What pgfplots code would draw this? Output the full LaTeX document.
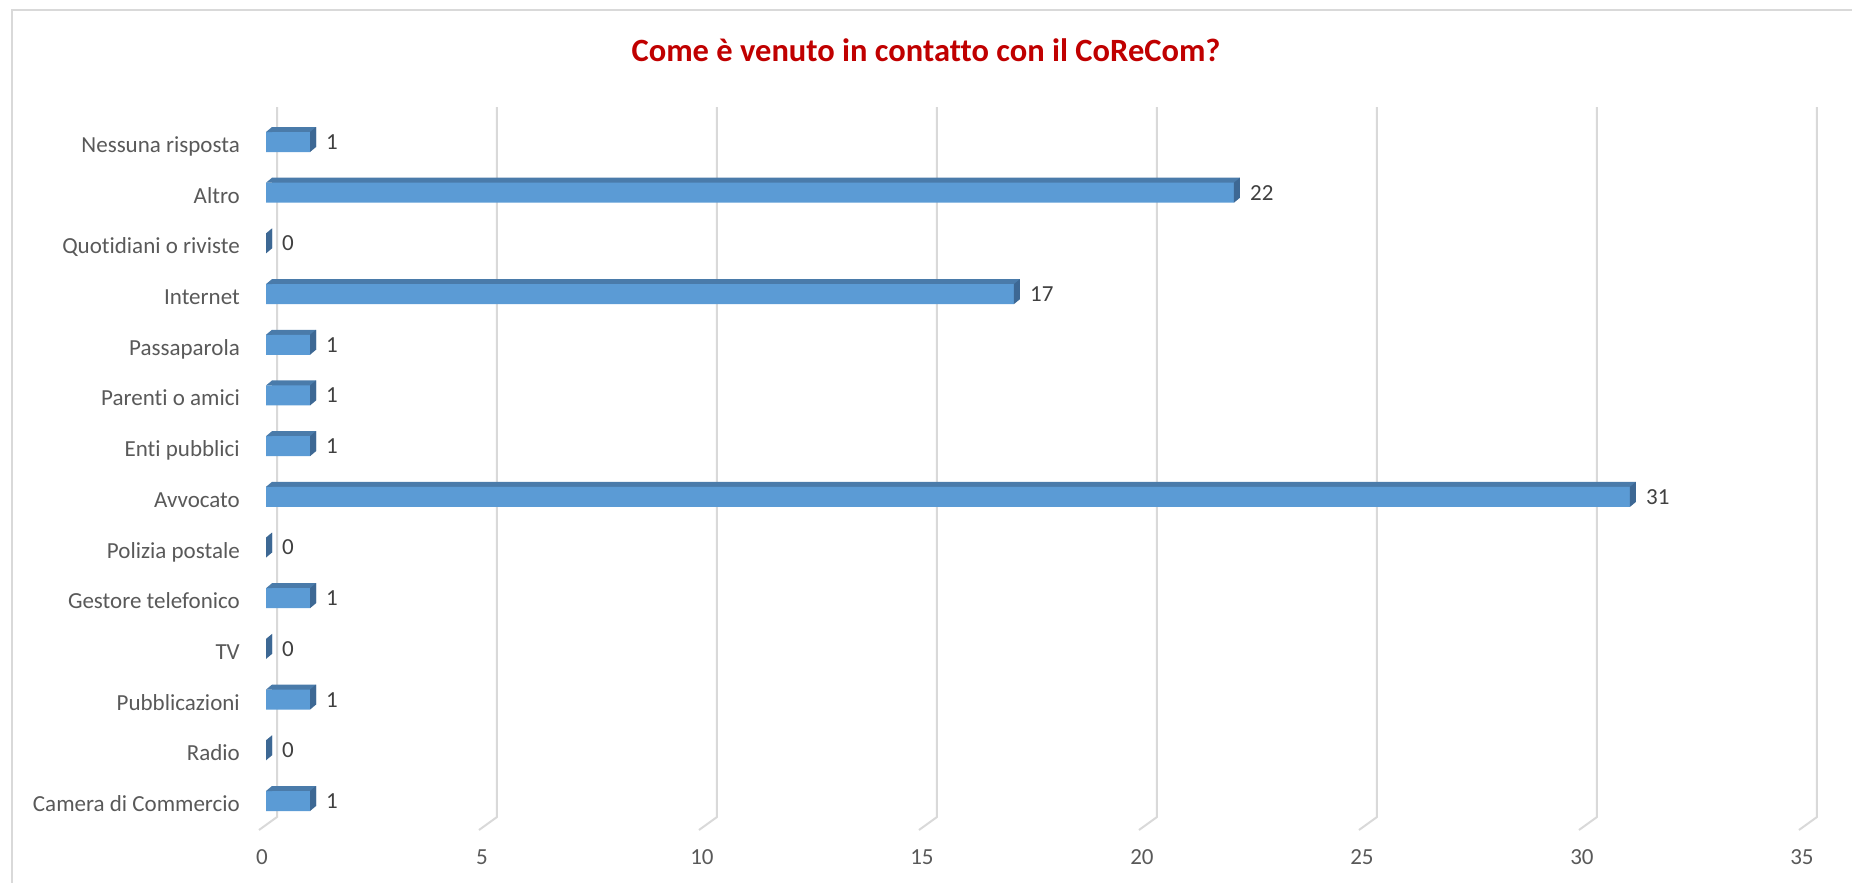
\documentclass[border=0pt]{standalone}
\usepackage{fontspec}
\setmainfont{Carlito}[Ligatures=NoCommon, RawFeature={-liga;-clig;-dlig}]
\usepackage{pgfplots}
\pgfplotsset{compat=1.18}
\usepackage{pgfplotstable}
\definecolor{frontc}{HTML}{5B9BD5}
\definecolor{topc}{HTML}{4A7BAA}
\definecolor{sidec}{HTML}{3D6894}
\definecolor{gridc}{HTML}{D9D9D9}
\definecolor{labc}{HTML}{595959}
\definecolor{datc}{HTML}{404040}
\definecolor{titc}{HTML}{C00000}
\pgfdeclareplotmark{sideface}{%
  \pgfpathmoveto{\pgfqpoint{0pt}{-10pt}}%
  \pgfpathlineto{\pgfqpoint{0pt}{10pt}}%
  \pgfpathlineto{\pgfqpoint{6pt}{15pt}}%
  \pgfpathlineto{\pgfqpoint{6pt}{-5pt}}%
  \pgfpathclose\pgfusepathqfill}
\pgfdeclareplotmark{topleft}{%
  \pgfpathmoveto{\pgfqpoint{0pt}{10pt}}%
  \pgfpathlineto{\pgfqpoint{6pt}{15pt}}%
  \pgfpathlineto{\pgfqpoint{6pt}{10pt}}%
  \pgfpathclose\pgfusepathqfill}
\pgfplotstableread{
y val
0 1
1 0
2 1
3 0
4 1
5 0
6 31
7 1
8 1
9 1
10 17
11 0
12 22
13 1
}\datatable
\begin{document}
\begin{tikzpicture}
\useasboundingbox (0,0) rectangle (1852pt,883pt);
\draw[gridc, line width=1.5pt] (12pt,-5pt) -- (12pt,873pt) -- (1860pt,873pt);
\node[anchor=base, text=titc, font=\fontsize{32.5}{38}\selectfont\bfseries, inner sep=0pt] at (926pt,821pt) {Come è venuto in contatto con il CoReCom?};
\begin{axis}[
  scale only axis,
  width=1540pt, height=709.66pt,
  at={(266pt,56.65pt)}, anchor=south west,
  xmin=0, xmax=35, ymin=-0.5, ymax=13.5,
  enlargelimits=false,
  clip=false,
  axis line style={draw=none},
  tick style={draw=none},
  xtick={0,5,...,35},
  ytick={0,...,13},
  yticklabels={Camera di Commercio, Radio, Pubblicazioni, TV, Gestore telefonico, Polizia postale, Avvocato, Enti pubblici, Parenti o amici, Passaparola, Internet, Quotidiani o riviste, Altro, Nessuna risposta},
  xticklabel style={anchor=center, yshift=-30.6pt, xshift=-4pt, inner sep=0pt, text=labc, font=\fontsize{23}{27}\selectfont},
  yticklabel style={anchor=base east, xshift=-26pt, yshift=-10.5pt, inner sep=0pt, text=labc, font=\fontsize{23}{27}\selectfont},
  /pgf/number format/assume math mode=true,
]
\pgfplotsinvokeforeach{0,5,...,35}{
  \draw[gridc, line width=2pt] ([xshift=11pt]axis cs:#1,13.69) -- ([xshift=11pt]axis cs:#1,-0.316) -- ([xshift=-7pt]axis cs:#1,-0.572);
}
\addplot[xbar, bar width=20pt, bar shift=0pt, fill=topc, draw=none, xshift=6pt, yshift=5pt] table[x=val, y=y] {\datatable};
\addplot[only marks, mark=sideface, color=sidec] table[x=val, y=y] {\datatable};
\addplot[only marks, mark=topleft, color=topc] coordinates {(0,0) (0,2) (0,4) (0,6) (0,7) (0,8) (0,9) (0,10) (0,12) (0,13)};
\addplot[xbar, bar width=20pt, bar shift=0pt, fill=frontc, draw=none,
  point meta=x,
  nodes near coords,
  nodes near coords style={anchor=west, inner sep=0pt, xshift=16pt, text=datc, font=\fontsize{23}{27}\selectfont, /pgf/number format/assume math mode=true}
] table[x=val, y=y] {\datatable};
\end{axis}
\end{tikzpicture}
\end{document}
